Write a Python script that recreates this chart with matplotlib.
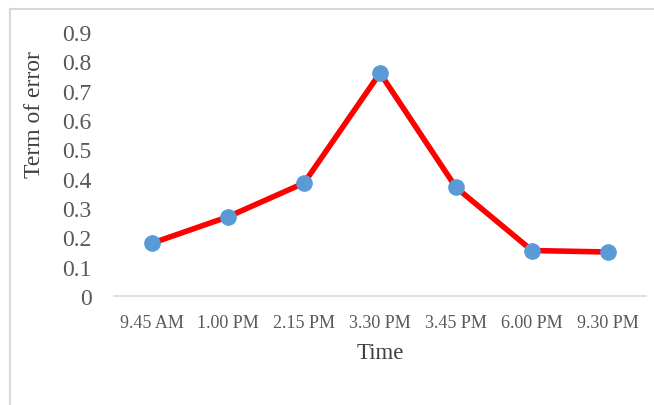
import matplotlib.pyplot as plt
from matplotlib.lines import Line2D

times = ['9.45 AM', '1.00 PM', '2.15 PM', '3.30 PM', '3.45 PM', '6.00 PM', '9.30 PM']
error = [0.18, 0.27, 0.385, 0.76, 0.37, 0.155, 0.15]
yticks = [0, 0.1, 0.2, 0.3, 0.4, 0.5, 0.6, 0.7, 0.8, 0.9]

plt.rcParams['font.family'] = ['Liberation Serif', 'DejaVu Serif']

fig = plt.figure(figsize=(6.54, 4.06), dpi=100)
ax = fig.add_axes([0.1743, 0.2685, 0.8135, 0.6502])

x = list(range(len(times)))
ax.plot(x, error, color='#FF0000', linewidth=4, marker='o', markersize=11,
        markerfacecolor='#5B9BD5', markeredgecolor='#5B9BD5', solid_capstyle='round')

ax.set_xlim(-0.5, len(times) - 0.5)
ax.set_ylim(0, 0.9)
ax.set_yticks(yticks)
ax.set_yticklabels(['0' if v == 0 else '%.1f' % v for v in yticks])
ax.set_xticks(x)
ax.set_xticklabels(times)

for s in ['top', 'right', 'left']:
    ax.spines[s].set_visible(False)
ax.spines['bottom'].set_color('#D9D9D9')
ax.spines['bottom'].set_linewidth(1.2)

ax.tick_params(axis='y', length=0, pad=16, labelsize=17, labelcolor='#595959')
ax.tick_params(axis='x', length=0, pad=13, labelsize=13, labelcolor='#595959')

ax.set_xlabel('Time', fontsize=16.5, color='#404040')
ax.xaxis.set_label_coords(0.5, -0.175)
ax.set_ylabel('Term of error', fontsize=17, color='#404040', va='center')
ax.yaxis.set_label_coords(-0.149, 0.69)

# chart area border (top and left visible)
fig.add_artist(Line2D([10 / 654, 653 / 654], [1 - 10 / 406, 1 - 10 / 406],
                      transform=fig.transFigure, color='#D9D9D9', linewidth=1.5))
fig.add_artist(Line2D([10 / 654, 10 / 654], [0, 1 - 10 / 406],
                      transform=fig.transFigure, color='#D9D9D9', linewidth=1.5))

fig.savefig('out.png', dpi=100)
